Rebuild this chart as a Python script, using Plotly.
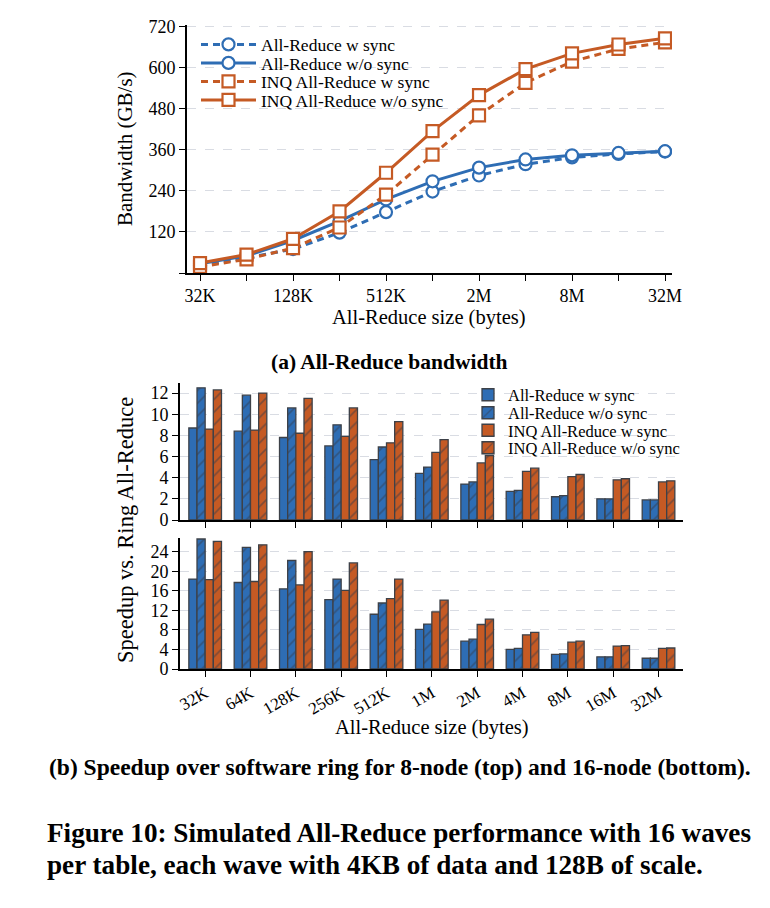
import plotly.graph_objects as go

# ---------------- data ----------------
sizes = ["32K", "64K", "128K", "256K", "512K", "1M", "2M", "4M", "8M", "16M", "32M"]

series_names = ["All-Reduce w sync", "All-Reduce w/o sync",
                "INQ All-Reduce w sync", "INQ All-Reduce w/o sync"]

# (a) bandwidth GB/s
bw_ar_sync = [22, 44, 70, 118, 178, 238, 285, 318, 338, 348, 355]
bw_ar_nosync = [27, 50, 95, 152, 215, 268, 308, 332, 344, 351, 356]
bw_inq_sync = [18, 40, 73, 133, 229, 346, 461, 556, 618, 655, 674]
bw_inq_nosync = [29, 54, 100, 180, 293, 415, 520, 596, 642, 668, 686]

# (b) speedup, 8-node
sp8_ar_sync = [8.7, 8.4, 7.8, 7.0, 5.7, 4.4, 3.4, 2.7, 2.2, 2.0, 1.9]
sp8_ar_nosync = [12.5, 11.8, 10.6, 9.0, 6.9, 5.0, 3.6, 2.8, 2.3, 2.0, 1.9]
sp8_inq_sync = [8.6, 8.5, 8.2, 7.9, 7.3, 6.4, 5.4, 4.6, 4.1, 3.8, 3.6]
sp8_inq_nosync = [12.3, 12.0, 11.5, 10.6, 9.3, 7.6, 6.1, 4.9, 4.3, 3.9, 3.7]

# (b) speedup, 16-node
sp16_ar_sync = [18.4, 17.7, 16.4, 14.2, 11.2, 8.1, 5.7, 4.0, 3.0, 2.5, 2.2]
sp16_ar_nosync = [26.6, 24.9, 22.2, 18.4, 13.5, 9.2, 6.1, 4.2, 3.1, 2.5, 2.2]
sp16_inq_sync = [18.3, 17.9, 17.2, 16.1, 14.4, 11.7, 9.1, 7.0, 5.5, 4.7, 4.2]
sp16_inq_nosync = [26.1, 25.4, 24.0, 21.7, 18.4, 14.1, 10.2, 7.5, 5.7, 4.8, 4.3]

top_ticks = [0, 120, 240, 360, 480, 600, 720]
top_tick_text = ["", "120", "240", "360", "480", "600", "720"]
mid_ticks = [0, 2, 4, 6, 8, 10, 12]
bot_ticks = [0, 4, 8, 12, 16, 20, 24]

# ---------------- style ----------------
BLUE = "#2e6db4"
ORANGE = "#c55a24"
EDGE = "#3d4148"
HATCH = "#343a48"
GRID = "#d9dce3"
FONT = "Liberation Serif"
W, H = 770, 908


def px_x(p):
    return p / W


def px_y(p):
    return 1 - p / H


fig = go.Figure()

# ---- (a) line chart ----
line_specs = [
    (bw_ar_sync, BLUE, "7px,5px", "circle"),
    (bw_ar_nosync, BLUE, "solid", "circle"),
    (bw_inq_sync, ORANGE, "7px,5px", "square"),
    (bw_inq_nosync, ORANGE, "solid", "square"),
]
line_legends = ["legend", "legend2", "legend3", "legend4"]
for name, (vals, col, dash, sym), lg in zip(series_names, line_specs, line_legends):
    fig.add_trace(go.Scatter(
        x=sizes, y=vals, name=name, mode="lines+markers", showlegend=True,
        line=dict(color=col, width=3, dash=dash),
        marker=dict(symbol=sym, size=12, color="white", line=dict(color=col, width=2.2)),
        xaxis="x", yaxis="y", legend=lg,
    ))

# ---- (b) bar charts ----
bar_specs = [(BLUE, ""), (BLUE, "/"), (ORANGE, ""), (ORANGE, "/")]
bar_legends = ["legend5", "legend6", "legend7", "legend8"]
for data, xa, ya, show in [
    ([sp8_ar_sync, sp8_ar_nosync, sp8_inq_sync, sp8_inq_nosync], "x2", "y2", True),
    ([sp16_ar_sync, sp16_ar_nosync, sp16_inq_sync, sp16_inq_nosync], "x3", "y3", False),
]:
    for name, vals, (col, pat), lg in zip(series_names, data, bar_specs, bar_legends):
        fig.add_trace(go.Bar(
            x=sizes, y=vals, name=name, showlegend=show,
            marker=dict(color=col, line=dict(color=EDGE, width=1.3),
                        pattern=dict(shape=pat, fgcolor=HATCH, bgcolor=col,
                                     size=9, solidity=0.18)),
            xaxis=xa, yaxis=ya, legend=lg,
        ))

axis_common = dict(
    showline=True, linecolor="black", linewidth=1.6,
    ticks="outside", tickcolor="black", tickwidth=1.4, ticklen=6,
    tickfont=dict(family=FONT, size=18, color="black"),
    zeroline=False, mirror=False,
)

layout = dict(
    width=W, height=H, showlegend=True,
    margin=dict(l=0, r=0, t=0, b=0, autoexpand=False),
    paper_bgcolor="white", plot_bgcolor="white",
    font=dict(family=FONT, color="black"),
    barmode="group", bargap=0.28, bargroupgap=0.0,
    xaxis=dict(
        **axis_common, type="category", domain=[px_x(187), px_x(672)],
        range=[-0.28, 10.15], tickmode="array", tickvals=sizes,
        ticktext=[s if i % 2 == 0 else "" for i, s in enumerate(sizes)],
        showgrid=False, anchor="y",
    ),
    yaxis=dict(
        **axis_common, domain=[px_y(273), px_y(25)], range=[0, 725],
        tickmode="array", tickvals=top_ticks, ticktext=top_tick_text,
        showgrid=True, gridcolor=GRID, griddash="dash", gridwidth=1.3, anchor="x",
    ),
    xaxis2=dict(
        **axis_common, type="category", domain=[px_x(180), px_x(683)],
        range=[-0.555, 10.54], showticklabels=False, anchor="y2", showgrid=False,
    ),
    yaxis2=dict(
        **axis_common, domain=[px_y(520), px_y(382.5)], range=[0, 13],
        tickmode="array", tickvals=mid_ticks,
        showgrid=True, gridcolor=GRID, griddash="dash", gridwidth=1.3, anchor="x2",
    ),
    xaxis3=dict(
        **{k: v for k, v in axis_common.items() if k != "tickfont"},
        tickfont=dict(family=FONT, size=17, color="black"),
        type="category", domain=[px_x(180), px_x(683)],
        range=[-0.555, 10.54], tickangle=-30, anchor="y3", showgrid=False,
    ),
    yaxis3=dict(
        **axis_common, domain=[px_y(669), px_y(538)], range=[0, 26.8],
        tickmode="array", tickvals=bot_ticks,
        showgrid=True, gridcolor=GRID, griddash="dash", gridwidth=1.3, anchor="x3",
    ),
)

# individual legends for precise row placement
for lg, yrow in zip(line_legends, [44.5, 63, 81.5, 100]):
    layout[lg] = dict(
        x=px_x(196), y=px_y(yrow), xanchor="left", yanchor="middle",
        bgcolor="rgba(0,0,0,0)", borderwidth=0, itemwidth=55, visible=True,
        font=dict(family=FONT, size=17.5, color="black"),
    )
for lg, yrow in zip(bar_legends, [395, 413, 430.5, 448]):
    layout[lg] = dict(
        x=px_x(468), y=px_y(yrow), xanchor="left", yanchor="middle",
        bgcolor="rgba(0,0,0,0)", borderwidth=0, visible=True,
        font=dict(family=FONT, size=16.5, color="black"),
    )

fig.update_layout(**layout)

ann = [
    dict(text="Bandwidth (GB/s)", x=px_x(125), y=px_y(149), textangle=-90,
         font=dict(size=21)),
    dict(text="All-Reduce size (bytes)", x=px_x(429), y=px_y(318), font=dict(size=20.5)),
    dict(text="<b>(a) All-Reduce bandwidth</b>", x=px_x(389), y=px_y(362), font=dict(size=21.5)),
    dict(text="Speedup vs. Ring All-Reduce", x=px_x(125), y=px_y(530), textangle=-90,
         font=dict(size=22.5)),
    dict(text="All-Reduce size (bytes)", x=px_x(432), y=px_y(727), font=dict(size=20.5)),
    dict(text="<b>(b) Speedup over software ring for 8-node (top) and 16-node (bottom).</b>",
         x=px_x(400), y=px_y(767), font=dict(size=23.5)),
]
for a in ann:
    a.update(xref="paper", yref="paper", xanchor="center", yanchor="middle", showarrow=False)
    a["font"].update(family=FONT, color="black")
    fig.add_annotation(**a)

for text, yy in [("<b>Figure 10: Simulated All-Reduce performance with 16 waves</b>", 833),
                 ("<b>per table, each wave with 4KB of data and 128B of scale.</b>", 865)]:
    fig.add_annotation(text=text, x=px_x(45), y=px_y(yy), xref="paper", yref="paper",
                       xanchor="left", yanchor="middle", showarrow=False,
                       font=dict(family=FONT, size=27.2, color="black"))

fig.write_html(
    "out.html",
    config={"displayModeBar": False},
    post_script="document.body.style.margin='0';document.body.style.overflow='hidden';",
)
